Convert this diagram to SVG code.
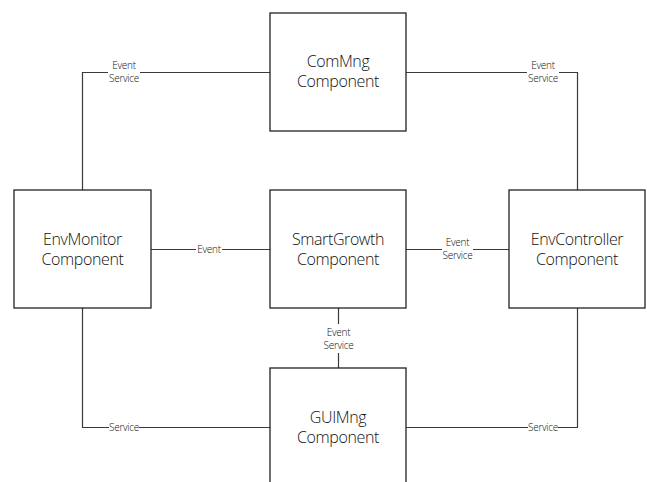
<svg xmlns="http://www.w3.org/2000/svg" width="647" height="482" viewBox="0 0 647 482">
<style>
.box{fill:#fff;stroke:#222;stroke-width:1.3}
.conn{fill:none;stroke:#3a3a3a;stroke-width:1.2}
.nt{font-family:"Open Sans","Noto Sans",sans-serif;font-size:16px;font-weight:300;letter-spacing:-0.4px;fill:#111;text-anchor:middle}
.lt{font-family:"Open Sans","Noto Sans",sans-serif;font-size:10px;font-weight:300;letter-spacing:-0.3px;fill:#111;text-anchor:middle}
.lb{fill:#fff;stroke:none}
</style>
<rect width="647" height="482" fill="#fff"/>
<g id="connectors">
<path class="conn" d="M82.5,190 V72.5 H270"/>
<path class="conn" d="M406,72.5 H577.5 V190"/>
<path class="conn" d="M151,249.5 H270"/>
<path class="conn" d="M406,249.5 H509"/>
<path class="conn" d="M338.5,308 V368"/>
<path class="conn" d="M82.5,308 V427.5 H270"/>
<path class="conn" d="M406,427.5 H577.5 V308"/>
<rect class="lb" x="108" y="62" width="32" height="22"/>
<text class="lt" x="124" y="69">Event</text>
<text class="lt" x="124" y="82">Service</text>
<rect class="lb" x="527" y="62" width="32" height="22"/>
<text class="lt" x="543" y="69">Event</text>
<text class="lt" x="543" y="82">Service</text>
<rect class="lb" x="196" y="243" width="26" height="12"/>
<text class="lt" x="209" y="253">Event</text>
<rect class="lb" x="442" y="238" width="31" height="23"/>
<text class="lt" x="457.5" y="246">Event</text>
<text class="lt" x="457.5" y="259">Service</text>
<rect class="lb" x="322" y="324" width="33" height="29"/>
<text class="lt" x="338.5" y="336">Event</text>
<text class="lt" x="338.5" y="349">Service</text>
<rect class="lb" x="109" y="421" width="30" height="12"/>
<text class="lt" x="124" y="431">Service</text>
<rect class="lb" x="528" y="421" width="30" height="12"/>
<text class="lt" x="543" y="431">Service</text>
</g>
<g id="commng">
<rect class="box" x="270" y="13" width="136" height="118"/>
<text class="nt" x="338" y="67">ComMng</text>
<text class="nt" x="338" y="87">Component</text>
</g>
<g id="envmonitor">
<rect class="box" x="14" y="190" width="137" height="118"/>
<text class="nt" x="82.5" y="245">EnvMonitor</text>
<text class="nt" x="82.5" y="265">Component</text>
</g>
<g id="smartgrowth">
<rect class="box" x="270" y="190" width="136" height="118"/>
<text class="nt" x="338" y="245">SmartGrowth</text>
<text class="nt" x="338" y="265">Component</text>
</g>
<g id="envcontroller">
<rect class="box" x="509" y="190" width="136" height="118"/>
<text class="nt" x="577" y="245">EnvController</text>
<text class="nt" x="577" y="265">Component</text>
</g>
<g id="guimng">
<rect class="box" x="270" y="368" width="136" height="118"/>
<text class="nt" x="338" y="423">GUIMng</text>
<text class="nt" x="338" y="443">Component</text>
</g>
</svg>
